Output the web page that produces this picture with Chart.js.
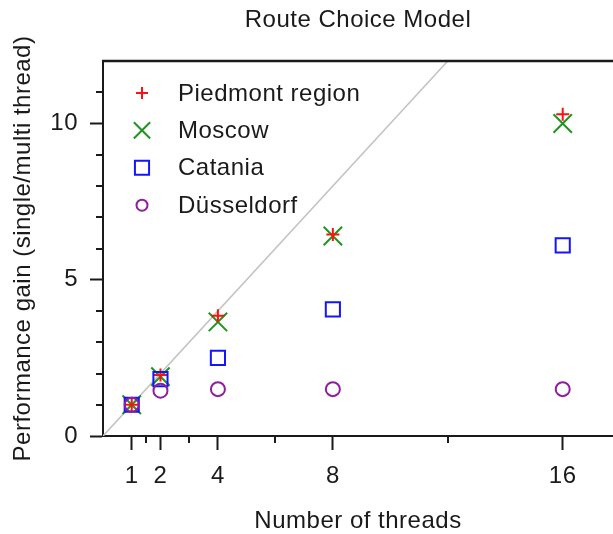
<!DOCTYPE html>
<html>
<head>
<meta charset="utf-8">
<title>Route Choice Model</title>
<script src="https://cdn.jsdelivr.net/npm/chart.js"></script>
<style>
  html, body { margin: 0; padding: 0; background: #ffffff; }
  #wrap { width: 613px; height: 534px; }
</style>
</head>
<body>
<div id="wrap"><canvas id="chart" width="613" height="534"></canvas></div>
<script>
// Speed-up of the route choice model for each network, by thread count
const threads = [1, 2, 4, 8, 16];
const piedmont = [1.0, 1.95, 3.85, 6.45, 10.3];
const moscow = [1.0, 1.9, 3.65, 6.4, 10.0];
const catania = [1.0, 1.82, 2.5, 4.05, 6.1];
const dusseldorf = [1.0, 1.45, 1.5, 1.5, 1.5];

// Ideal (linear) speed-up reference
const idealX = [0, 12];
const idealY = [0, 12];

// Axis ticks
const xMajorTicks = [1, 2, 4, 8, 16];
const xMinorTicks = [1.5, 3, 6, 12];
const yMajorTicks = [0, 5, 10];
const yMinorTicks = [1, 2, 3, 4, 6, 7, 8, 9, 11];

const FONT = "'Liberation Sans', Arial, Helvetica, sans-serif";
const INK = '#1a1a1a';

const toPoints = (xs, ys) => xs.map((x, i) => ({ x: x, y: ys[i] }));

const series = [
  { label: 'Piedmont region', data: piedmont, color: '#ff1010', style: 'cross', radius: 6.5, legendRadius: 6, order: 3 },
  { label: 'Moscow', data: moscow, color: '#1f951f', style: 'crossRot', radius: 13, legendRadius: 11.5, order: 4 },
  { label: 'Catania', data: catania, color: '#1414ff', style: 'rect', radius: 10, legendRadius: 10, order: 2 },
  { label: 'Düsseldorf', data: dusseldorf, color: '#8e1e9c', style: 'circle', radius: 7, legendRadius: 5.5, order: 1 }
];

// Slightly open tracking for all chart text
const textSpacing = {
  id: 'textSpacing',
  beforeUpdate(chart) { chart.ctx.letterSpacing = '0.5px'; },
  beforeDraw(chart) { chart.ctx.letterSpacing = '0.5px'; }
};

// Short minor ticks and the closing line along the top of the plot
const frameAndMinorTicks = {
  id: 'frameAndMinorTicks',
  afterDraw(chart) {
    const { ctx, chartArea, scales } = chart;
    ctx.save();
    ctx.strokeStyle = INK;
    ctx.lineWidth = 2;
    ctx.beginPath();
    xMinorTicks.forEach(v => {
      const px = Math.round(scales.x.getPixelForValue(v));
      ctx.moveTo(px, chartArea.bottom);
      ctx.lineTo(px, chartArea.bottom + 7);
    });
    yMinorTicks.forEach(v => {
      const py = Math.round(scales.y.getPixelForValue(v));
      ctx.moveTo(chartArea.left - 7, py);
      ctx.lineTo(chartArea.left, py);
    });
    ctx.stroke();
    ctx.beginPath();
    ctx.lineWidth = 2.5;
    ctx.moveTo(chartArea.left - 1, chartArea.top);
    ctx.lineTo(chartArea.right, chartArea.top);
    ctx.stroke();
    ctx.restore();
  }
};

// Legend in the upper left corner of the plot
const insideLegend = {
  id: 'insideLegend',
  afterDraw(chart) {
    const { ctx, chartArea } = chart;
    const symbolX = chartArea.left + 39;
    const textX = chartArea.left + 75;
    const firstY = chartArea.top + 32;
    const rowGap = 37.4;
    ctx.save();
    series.forEach((s, i) => {
      const y = firstY + i * rowGap;
      ctx.strokeStyle = s.color;
      ctx.fillStyle = 'rgba(0,0,0,0)';
      ctx.lineWidth = 2;
      const opts = { pointStyle: s.style, radius: s.legendRadius, rotation: 0, borderWidth: 2 };
      if (Chart.helpers && Chart.helpers.drawPoint) {
        Chart.helpers.drawPoint(ctx, opts, symbolX, y);
      }
      ctx.fillStyle = INK;
      ctx.font = '24px ' + FONT;
      ctx.textAlign = 'left';
      ctx.textBaseline = 'middle';
      ctx.fillText(s.label, textX, y + 1);
    });
    ctx.restore();
  }
};

const datasets = series.map(s => ({
  type: 'scatter',
  label: s.label,
  data: toPoints(threads, s.data),
  showLine: false,
  pointStyle: s.style,
  pointRadius: s.radius,
  pointBorderWidth: 2,
  pointBorderColor: s.color,
  pointBackgroundColor: 'rgba(0,0,0,0)',
  borderColor: s.color,
  backgroundColor: 'rgba(0,0,0,0)',
  order: s.order
}));

datasets.push({
  type: 'line',
  label: 'ideal',
  data: toPoints(idealX, idealY),
  borderColor: '#c4c4c4',
  borderWidth: 1.6,
  pointRadius: 0,
  fill: false,
  order: 10
});

new Chart(document.getElementById('chart'), {
  type: 'scatter',
  data: { datasets: datasets },
  plugins: [textSpacing, frameAndMinorTicks, insideLegend],
  options: {
    responsive: false,
    animation: false,
    events: [],
    layout: { padding: 0, autoPadding: false },
    plugins: {
      legend: { display: false },
      tooltip: { enabled: false },
      title: {
        display: true,
        text: 'Route Choice Model',
        fullSize: false,
        color: INK,
        font: { family: FONT, size: 24, weight: 'normal' },
        padding: { top: 6, bottom: 26.2 }
      }
    },
    scales: {
      x: {
        type: 'linear',
        position: 'bottom',
        min: 0,
        max: 17.75,
        afterBuildTicks: scale => { scale.ticks = xMajorTicks.map(v => ({ value: v })); },
        afterFit: scale => {
          scale.height = 98;
          scale.paddingLeft = 0;
          scale.paddingRight = 0;
        },
        ticks: {
          color: INK,
          padding: 12,
          maxRotation: 0,
          autoSkip: false,
          font: { family: FONT, size: 24 },
          callback: v => String(v)
        },
        grid: {
          display: true,
          drawOnChartArea: false,
          drawTicks: true,
          tickLength: 14,
          tickWidth: 2,
          tickColor: INK,
          color: INK
        },
        border: { display: true, color: INK, width: 2 },
        title: {
          display: true,
          text: 'Number of threads',
          color: INK,
          font: { family: FONT, size: 24 },
          padding: { top: 0, bottom: -2 }
        }
      },
      y: {
        type: 'linear',
        position: 'left',
        min: 0,
        max: 12,
        afterBuildTicks: scale => { scale.ticks = yMajorTicks.map(v => ({ value: v })); },
        afterFit: scale => {
          scale.width = 103;
          scale.paddingTop = 0;
          scale.paddingBottom = 0;
        },
        ticks: {
          color: INK,
          padding: 12,
          autoSkip: false,
          font: { family: FONT, size: 24 },
          callback: v => String(v)
        },
        grid: {
          display: true,
          drawOnChartArea: false,
          drawTicks: true,
          tickLength: 13,
          tickWidth: 2,
          tickColor: INK,
          color: INK
        },
        border: { display: true, color: INK, width: 2 },
        title: {
          display: true,
          text: 'Performance gain (single/multi thread)',
          color: INK,
          font: { family: FONT, size: 24 },
          padding: { top: 9, bottom: 0 }
        }
      }
    }
  }
});
</script>
</body>
</html>
